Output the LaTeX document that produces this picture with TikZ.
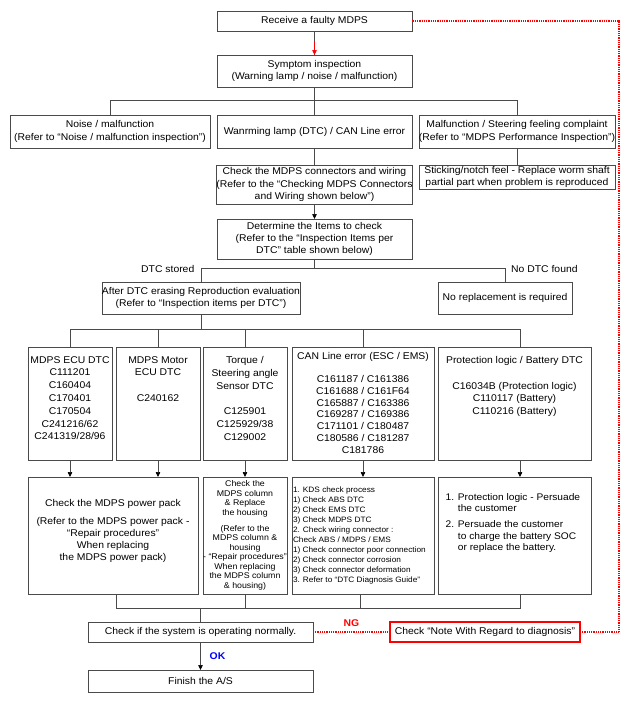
\documentclass[tikz,border=0pt]{standalone}
\usepackage{fontspec}
\setmainfont{Liberation Sans}[FakeStretch=1.06]
\usetikzlibrary{arrows.meta,calc}
\definecolor{ln}{HTML}{4A4A4A}
\newcommand{\fs}[2]{\fontsize{#1}{#2}\selectfont}
\tikzset{
  every node/.style={font=\fs{9.8}{12.4}},
  base/.style={draw=ln, line width=0.65pt, inner sep=0pt, outer sep=0pt},
  box/.style={base, align=center},
  tbox/.style={base},
  conn/.style={ln, line width=0.65pt},
  arr/.style={conn, -{Triangle[length=5pt,width=4.5pt,color=black]}},
  redarr/.style={red, line width=0.65pt, -{Triangle[length=5pt,width=4.5pt]}},
  reddot/.style={red, line width=1.05pt, dash pattern=on 0.9pt off 0.9pt},
  redbox/.style={box, draw=red, line width=1.1pt},
  lbl/.style={inner sep=0pt},
}
\newcommand{\mkbox}[7][]{\node[box,minimum width={(#5-#3)*1pt},minimum height={(#6-#4)*1pt},#1] (#2) at ({(#3+#5)/2},{(#4+#6)/2}) {#7};}
\newcommand{\mktbox}[8][]{%
  \pgfmathsetmacro\tbh{#6-#4-2*#7}%
  \pgfmathsetmacro\tbw{#5-#3-4}%
  \node[tbox,minimum width={(#5-#3)*1pt},minimum height={(#6-#4)*1pt},inner ysep=#7pt,#1] (#2) at ({(#3+#5)/2},{(#4+#6)/2}) {\begin{minipage}[c][\tbh pt][t]{\tbw pt}#8\end{minipage}};}
\begin{document}
\begin{tikzpicture}[x=1pt,y=-1pt]
\fill[white] (0,0) rectangle (630,702);
\useasboundingbox (0,0) rectangle (630,702);

% bus levels
\coordinate (b1) at (0,100);
\coordinate (b2) at (0,268);
\coordinate (b3) at (0,329);
\coordinate (b4) at (0,608);

% top part
\mkbox{recv}{217}{11}{412}{31}{Receive a faulty MDPS}
\mkbox{symp}{217}{55}{412}{87}{Symptom inspection\\(Warning lamp / noise / malfunction)}
\mkbox{noise}{10}{115}{210}{148}{Noise / malfunction\\(Refer to “Noise / malfunction inspection”)}
\mkbox{warn}{217}{115}{412}{148}{Wanrming lamp (DTC) / CAN Line error}
\mkbox{malf}{419}{115}{615}{148}{Malfunction / Steering feeling complaint\\(Refer to “MDPS Performance Inspection”)}
\mkbox{check}{217}{165}{412}{204}{Check the MDPS connectors and wiring\\(Refer to the “Checking MDPS Connectors\\and Wiring shown below”)}
\mkbox{stick}{419}{165}{615}{189}{Sticking/notch feel - Replace worm shaft\\partial part when problem is reproduced}
\mkbox{determ}{217}{219}{412}{259}{Determine the Items to check\\(Refer to the “Inspection Items per\\DTC” table shown below)}
\mkbox{after}{104}{282}{298}{314}{After DTC erasing Reproduction evaluation\\(Refer to “Inspection items per DTC”)}
\mkbox{norep}{438}{282}{572}{314}{No replacement is required}

% DTC row
\mktbox{ecu}{28}{347}{112}{460}{9.3}{\fs{9.8}{12.8}\centering MDPS ECU DTC\\C111201\\C160404\\C170401\\C170504\\C241216/62\\C241319/28/96}
\mktbox{motor}{116}{347}{200}{460}{9.3}{\fs{9.8}{12.8}\centering MDPS Motor\\ECU DTC\\[12.8pt]C240162}
\mktbox{torque}{203}{347}{287}{460}{9.3}{\fs{9.8}{12.8}\centering Torque /\\Steering angle\\Sensor DTC\\[12.8pt]C125901\\C125929/38\\C129002}
\mktbox{can}{292}{347}{434}{460}{5.3}{\fs{9.8}{11.7}\centering CAN Line error (ESC / EMS)\\[11.7pt]C161187 / C161386\\C161688 / C161F64\\C165887 / C163386\\C169287 / C169386\\C171101 / C180487\\C180586 / C181287\\C181786}
\mktbox{prot}{438}{347}{591}{460}{9.3}{\fs{9.8}{12.8}\centering Protection logic / Battery DTC\\[12.8pt]C16034B (Protection logic)\\C110117 (Battery)\\C110216 (Battery)}

% action row
\mktbox{pp}{28}{477}{198}{594}{22.3}{\fs{9.8}{12}\centering Check the MDPS power pack\\[6pt](Refer to the MDPS power pack -\\“Repair procedures”\\When replacing\\the MDPS power pack)}
\mkbox[font=\fs{8.3}{9.5}]{tchk}{203}{477}{287}{594}{Check the\\MDPS column\\\& Replace\\the housing\\[6.5pt](Refer to the\\MDPS column \&\\housing\\- “Repair procedures”\\When replacing\\the MDPS column\\\& housing)}
\node[tbox,minimum width=142pt,minimum height=117pt] (cchk) at (363,535.5) {\begin{minipage}{140pt}\fs{7.8}{9.9}\raggedright
1. KDS check process\\
1) Check ABS DTC\\
2) Check EMS DTC\\
3) Check MDPS DTC\\
2. Check wiring connector :\\
Check ABS / MDPS / EMS\\
1) Check connector poor connection\\
2) Check connector corrosion\\
3) Check connector deformation\\
3. Refer to “DTC Diagnosis Guide”\end{minipage}};
\mktbox{pchk}{438}{477}{591}{594}{15}{\fs{9.6}{11.5}\begin{tabular}{@{\hspace{5.7pt}}l@{ }l@{}}1.&Protection logic - Persuade\\&the customer\\[4.5pt]2.&Persuade the customer\\&to charge the battery SOC\\&or replace the battery.\end{tabular}}

% bottom part
\mkbox{chkok}{88}{622}{313}{642}{Check if the system is operating normally.}
\mkbox[redbox]{note}{390}{622}{580}{642}{Check “Note With Regard to diagnosis”}
\mkbox{finish}{88}{670}{313}{692}{Finish the A/S}

% connectors top
\draw[conn] (recv.south) -- (symp.north);
\draw[redarr] ($(recv.south)!0.4!(symp.north)$) -- (symp.north);
\draw[conn] (symp.south) -- (symp.south |- b1);
\draw[conn] (noise.north) -- (noise.north |- b1) -- (malf.north |- b1) -- (malf.north);
\draw[conn] (symp.south |- b1) -- (warn.north);
\draw[conn] (warn.south) -- (check.north);
\draw[conn] (malf.south) -- (stick.north);
\draw[arr] (check.south) -- (determ.north);
\draw[conn] (determ.south) -- (determ.south |- b2);
\draw[conn] (after.north) -- (after.north |- b2) -- (norep.north |- b2) -- (norep.north);
\node[lbl, anchor=east] (dtcs) at ($(after.north |- b2)+(-6.5,0.5)$) {DTC stored};
\node[lbl, anchor=west] (nodtc) at ($(norep.north |- b2)+(6,0.5)$) {No DTC found};

% DTC row bus
\draw[conn] (after.south) -- (after.south |- b3);
\draw[conn] (ecu.north) -- (ecu.north |- b3) -- ($(prot.north |- b3)+(5.5,0)$) -- ([xshift=5.5pt]prot.north);
\draw[conn] (motor.north) -- (motor.north |- b3);
\draw[conn] (torque.north) -- (torque.north |- b3);
\draw[conn] (can.north) -- (can.north |- b3);

% arrows to action row
\draw[arr] (ecu.south) -- (ecu.south |- pp.north);
\draw[arr] (motor.south) -- (motor.south |- pp.north);
\draw[arr] (torque.south) -- (tchk.north);
\draw[arr] (can.south) -- (cchk.north);
\draw[arr] ([xshift=5.5pt]prot.south) -- ([xshift=5.5pt]pchk.north);

% bottom bus
\draw[conn] ([xshift=3pt]pp.south) -- ($(pp.south |- b4)+(3,0)$) -- ($(pchk.south |- b4)+(5.5,0)$) -- ([xshift=5.5pt]pchk.south);
\draw[conn] (tchk.south) -- (tchk.south |- b4);
\draw[conn] ([xshift=-3pt]cchk.south) -- ($(cchk.south |- b4)+(-3,0)$);
\draw[conn] (chkok.north |- b4) -- (chkok.north);

% result
\draw[arr] (chkok.south) -- (finish.north);
\node[lbl, text=blue, font=\bfseries\fs{9.8}{12}] (ok) at ($(chkok.south)!0.5!(finish.north)+(17,0)$) {OK};
\draw[reddot] (chkok.east) -- (note.west);
\node[lbl, text=red, font=\bfseries\fs{9.8}{12}] (ng) at ($(chkok.east)!0.5!(note.west)+(0,-8.5)$) {NG};
\coordinate (rc) at (619,21);
\draw[reddot] (note.east) -| (rc) -- (recv.east);
\end{tikzpicture}
\end{document}
